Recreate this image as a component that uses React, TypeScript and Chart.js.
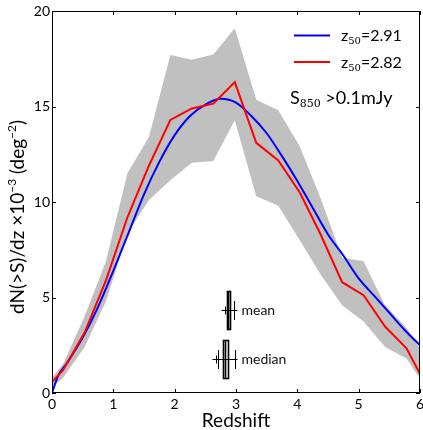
import { useEffect, useRef } from 'react';
import { Chart, registerables } from 'chart.js';

Chart.register(...registerables);

const SANS = 'Lato, "DejaVu Sans", sans-serif';
const SERIF = '"DejaVu Serif", "Liberation Serif", serif';

// ---- axes ----
const xTicks = [0, 1, 2, 3, 4, 5, 6];
const yTicks = [0, 5, 10, 15, 20];

// ---- blue smooth model curve ----
const blueX = [0, 0.1, 0.25, 0.5, 0.75, 1.0, 1.25, 1.5, 1.75, 2.0, 2.25, 2.5, 2.75, 3.0, 3.25, 3.5, 3.75, 4.0, 4.25, 4.5, 4.75, 5.0, 5.25, 5.5, 5.75, 6.0];
const blueY = [0, 0.9, 1.6, 2.9, 4.5, 6.4, 8.4, 10.4, 12.1, 13.5, 14.5, 15.1, 15.4, 15.2, 14.5, 13.6, 12.4, 11.1, 9.7, 8.3, 7.2, 6.0, 5.1, 4.2, 3.3, 2.5];

// ---- red binned curve ----
const redX = [0, 0.18, 0.53, 0.88, 1.23, 1.58, 1.93, 2.28, 2.63, 2.98, 3.33, 3.69, 4.04, 4.38, 4.73, 5.08, 5.43, 5.78, 6.0];
const redY = [0.58, 1.2, 3.15, 5.9, 9.2, 11.9, 14.3, 14.9, 15.15, 16.28, 13.1, 12.18, 10.5, 8.3, 5.8, 5.12, 3.48, 2.34, 1.0];

// ---- grey band ----
const bandX = [0, 0.18, 0.53, 0.88, 1.23, 1.58, 1.93, 2.28, 2.63, 2.98, 3.33, 3.69, 4.04, 4.38, 4.73, 5.08, 5.43, 5.78, 6.0];
const bandUpper = [0.8, 1.5, 4.0, 6.9, 11.5, 13.4, 17.7, 17.45, 17.72, 19.1, 15.35, 14.8, 12.9, 10.2, 7.1, 6.9, 4.6, 3.4, 2.3];
const bandLower = [0.3, 0.8, 2.4, 4.8, 8.35, 10.1, 11.14, 12.05, 12.15, 14.28, 10.3, 9.8, 8.0, 6.2, 4.6, 3.75, 2.41, 1.8, 0.75];

// ---- legend ----
const legendColors = ['#0000ff', '#ff0000'];
const legendValues = ['2.91', '2.82'];

// ---- mean / median markers ----
const markerNames = ['mean', 'median'];
const markerY = [4.33, 1.76];
const markerLineLo = [2.75, 2.61];
const markerLineHi = [3.01, 3.01];
const markerPlus = [2.82, 2.68];
const markerCapLo = [NaN, 2.71];
const markerCapHi = [2.97, 2.98];
const markerBoxLo = [2.85, 2.78];
const markerBoxMid = [2.875, 2.825];
const markerBoxHi = [2.9, 2.87];

type Part = { t: string; font: string; dy: number };

function partsWidth(ctx: CanvasRenderingContext2D, parts: Part[]) {
  let w = 0;
  for (const p of parts) {
    ctx.font = p.font;
    w += ctx.measureText(p.t).width;
  }
  return w;
}

function drawParts(ctx: CanvasRenderingContext2D, parts: Part[], x: number, y: number) {
  let cx = x;
  for (const p of parts) {
    ctx.font = p.font;
    ctx.fillText(p.t, cx, y + p.dy);
    cx += ctx.measureText(p.t).width;
  }
}

const overlay = {
  id: 'overlay',
  afterDatasetsDraw(chart: any) {
    const { ctx, chartArea: ca } = chart;
    const xs = chart.scales.x;
    const ys = chart.scales.y;
    ctx.save();
    ctx.strokeStyle = '#000';
    ctx.fillStyle = '#000';
    ctx.lineWidth = 1;
    // frame
    ctx.strokeRect(Math.round(ca.left) + 0.5, Math.round(ca.top) + 0.5, Math.round(ca.right - ca.left) - 1, Math.round(ca.bottom - ca.top) - 1);
    // inward ticks
    const T = 4;
    ctx.beginPath();
    for (const t of xs.ticks) {
      const px = Math.round(xs.getPixelForValue(t.value)) + 0.5;
      ctx.moveTo(px, ca.bottom); ctx.lineTo(px, ca.bottom - T);
      ctx.moveTo(px, ca.top); ctx.lineTo(px, ca.top + T);
    }
    for (const t of ys.ticks) {
      const py = Math.round(ys.getPixelForValue(t.value)) + 0.5;
      ctx.moveTo(ca.left, py); ctx.lineTo(ca.left + T, py);
      ctx.moveTo(ca.right, py); ctx.lineTo(ca.right - T, py);
    }
    ctx.stroke();

    // markers
    for (let i = 0; i < markerNames.length; i++) {
      const py = Math.round(ys.getPixelForValue(markerY[i])) + 0.5;
      const P = (v: number) => Math.round(xs.getPixelForValue(v)) + 0.5;
      ctx.lineWidth = 1;
      ctx.beginPath();
      ctx.moveTo(P(markerLineLo[i]), py); ctx.lineTo(P(markerLineHi[i]), py);
      const vt = (v: number, h: number) => {
        if (isNaN(v)) return;
        ctx.moveTo(P(v), py - h); ctx.lineTo(P(v), py + h);
      };
      vt(markerPlus[i], 4);
      vt(markerCapLo[i], 9.5);
      vt(markerCapHi[i], 9.5);
      ctx.stroke();
      const bl = P(markerBoxLo[i]);
      const bh = P(markerBoxHi[i]);
      ctx.lineWidth = 1.6;
      ctx.strokeRect(bl, py - 19, bh - bl, 38);
      ctx.beginPath();
      ctx.moveTo(P(markerBoxMid[i]), py - 19); ctx.lineTo(P(markerBoxMid[i]), py + 19);
      ctx.stroke();
      ctx.lineWidth = 1;
      ctx.font = '14px ' + SANS;
      ctx.textBaseline = 'middle';
      ctx.textAlign = 'left';
      ctx.fillStyle = '#111';
      ctx.fillText(markerNames[i], P(markerLineHi[i]) + 4, py);
      ctx.fillStyle = '#000';
    }

    // legend
    ctx.textBaseline = 'alphabetic';
    ctx.textAlign = 'left';
    for (let i = 0; i < legendValues.length; i++) {
      const ly = 35.5 + i * 26.5;
      ctx.strokeStyle = legendColors[i];
      ctx.lineWidth = 2;
      ctx.beginPath();
      ctx.moveTo(294, ly); ctx.lineTo(330, ly);
      ctx.stroke();
      ctx.fillStyle = '#000';
      drawParts(ctx, [
        { t: 'z', font: '16px ' + SANS, dy: 0 },
        { t: '50', font: '10px ' + SERIF, dy: 3 },
        { t: '=' + legendValues[i], font: '16px ' + SANS, dy: 0 },
      ], 341, ly + 5.5);
    }
    drawParts(ctx, [
      { t: 'S', font: '18px ' + SANS, dy: 0 },
      { t: '850', font: '11px ' + SERIF, dy: 3 },
      { t: ' >0.1mJy', font: '18px ' + SANS, dy: 0 },
    ], 290, 104);

    // axis titles
    ctx.fillStyle = '#000';
    ctx.font = '19px ' + SANS;
    ctx.textAlign = 'center';
    ctx.textBaseline = 'alphabetic';
    ctx.fillText('Redshift', (ca.left + ca.right) / 2, 427);

    const yParts: Part[] = [
      { t: 'dN(>S)/dz \u00d710', font: '19px ' + SANS, dy: 0 },
      { t: '\u22123', font: '12px ' + SANS, dy: -8 },
      { t: ' (deg', font: '19px ' + SANS, dy: 0 },
      { t: '\u22122', font: '12px ' + SANS, dy: -8 },
      { t: ')', font: '19px ' + SANS, dy: 0 },
    ];
    const w = partsWidth(ctx, yParts);
    ctx.translate(24, 217);
    ctx.rotate(-Math.PI / 2);
    ctx.textAlign = 'left';
    drawParts(ctx, yParts, -w / 2, 0);
    ctx.restore();
  },
};

export default function App() {
  const ref = useRef<HTMLCanvasElement>(null);
  useEffect(() => {
    const chart = new Chart(ref.current as HTMLCanvasElement, {
      type: 'line',
      data: {
        datasets: [
          {
            label: 'lower',
            data: bandX.map((x, i) => ({ x, y: bandLower[i] })),
            borderColor: 'rgba(0,0,0,0)',
            borderWidth: 0,
            pointRadius: 0,
            fill: false,
            order: 4,
          },
          {
            label: 'upper',
            data: bandX.map((x, i) => ({ x, y: bandUpper[i] })),
            borderColor: 'rgba(0,0,0,0)',
            backgroundColor: '#c0c0c0',
            borderWidth: 0,
            pointRadius: 0,
            fill: '-1',
            order: 3,
          },
          {
            label: 'blue',
            data: blueX.map((x, i) => ({ x, y: blueY[i] })),
            borderColor: '#0000ff',
            borderWidth: 2,
            pointRadius: 0,
            cubicInterpolationMode: 'monotone',
            fill: false,
            order: 2,
          },
          {
            label: 'red',
            data: redX.map((x, i) => ({ x, y: redY[i] })),
            borderColor: '#ff0000',
            borderWidth: 2,
            pointRadius: 0,
            fill: false,
            order: 1,
          },
        ],
      },
      options: {
        animation: false,
        responsive: false,
        events: [],
        layout: { padding: { left: 0, right: 3, top: 11, bottom: 0 } },
        plugins: { legend: { display: false }, tooltip: { enabled: false } },
        scales: {
          x: {
            type: 'linear',
            min: 0,
            max: 6,
            afterBuildTicks: (s: any) => { s.ticks = xTicks.map((v) => ({ value: v })); },
            afterFit: (s: any) => { s.height = 37; s.paddingRight = 0; s.paddingLeft = 0; },
            grid: { drawOnChartArea: false, drawTicks: false },
            border: { display: false },
            ticks: { padding: 3, color: '#000', maxRotation: 0, font: { family: SANS, size: 14 } },
          },
          y: {
            type: 'linear',
            min: 0,
            max: 20,
            afterBuildTicks: (s: any) => { s.ticks = yTicks.map((v) => ({ value: v })); },
            afterFit: (s: any) => { s.width = 52; s.paddingTop = 0; s.paddingBottom = 0; },
            grid: { drawOnChartArea: false, drawTicks: false },
            border: { display: false },
            ticks: { padding: 2, color: '#000', font: { family: SANS, size: 14 } },
          },
        },
      },
      plugins: [overlay],
    } as any);
    return () => chart.destroy();
  }, []);
  return (
    <div style={{ position: 'fixed', left: 0, top: 0, width: 423, height: 430, background: '#fff' }}>
      <canvas ref={ref} width={423} height={430} style={{ display: 'block' }} />
    </div>
  );
}
